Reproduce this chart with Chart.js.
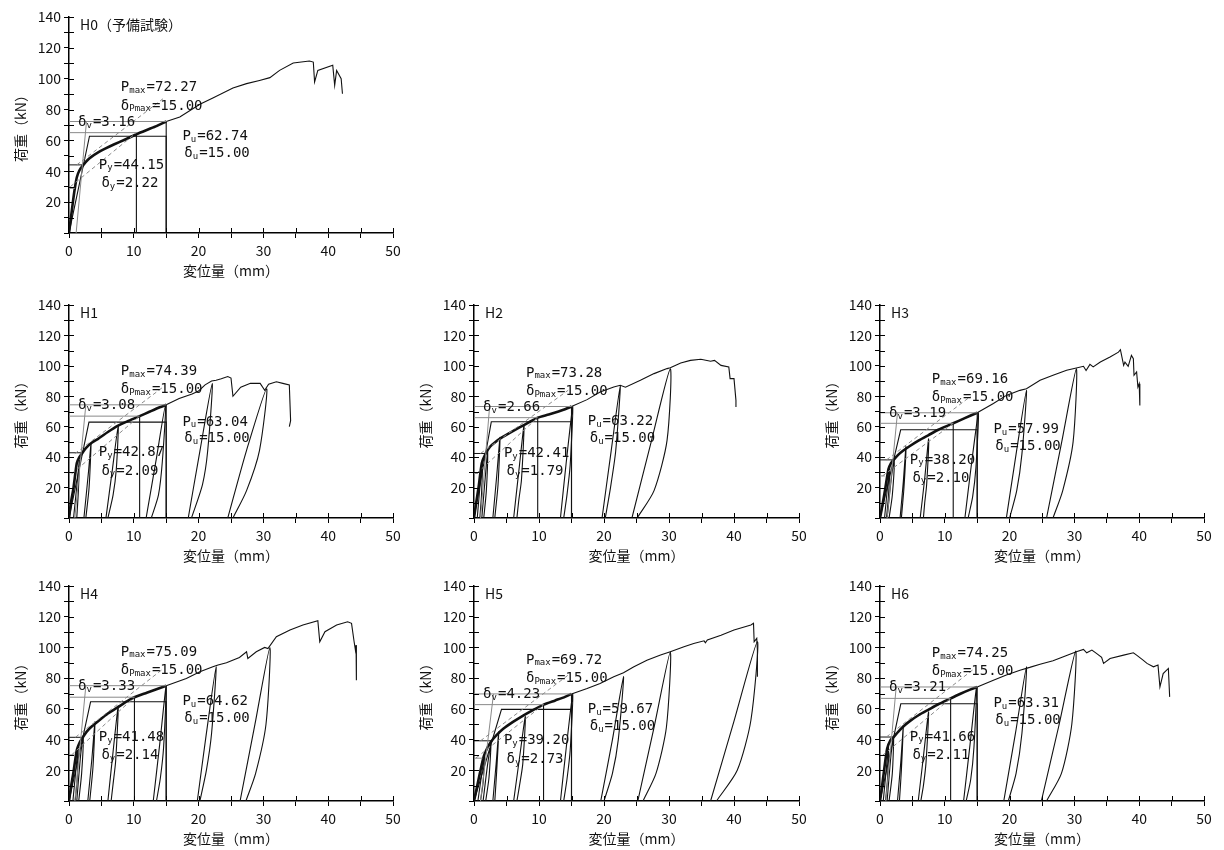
<!DOCTYPE html>
<html>
<head>
<meta charset="utf-8">
<script src="https://cdn.jsdelivr.net/npm/chart.js@4.4.1/dist/chart.umd.min.js"></script>
<style>
  body { margin: 0; background: #fff; width: 1224px; height: 850px; position: relative; overflow: hidden; }
  canvas { position: absolute; }
</style>
</head>
<body>
<script>
// 荷重-変位量 curves, H0 (monotonic) and H1..H6 (cyclic)
const xTicks = [0, 10, 20, 30, 40, 50];
const yTicks = [20, 40, 60, 80, 100, 120, 140];

// skeleton (thick, up to 15 mm) and remaining envelope (thin)
const h0Skeleton = [[0,0],[0.3,10],[0.6,20],[0.9,29],[1.2,36],[1.6,40.5],[2.22,44.15],[2.8,47],[3.5,49.5],[4.5,52.3],[5.5,54.5],[7,57.5],[8.5,60.3],[10.4,64],[12,66.8],[13.5,69.3],[15,72.27]];
const h0Tail = [[15,72.27],[17.1,75.2],[20.2,83.5],[22.2,87.5],[25.3,94],[27.4,96.8],[29.4,98.9],[31,100.7],[32.5,105.4],[34.6,110.2],[37.1,111.5],[37.7,110.8],[37.9,97.9],[38.4,105.4],[40.7,108.7],[41,95.7],[41.3,105.4],[42,100],[42.2,90.3]];
const h0Loops = [];

const h1Skeleton = [[0,0],[0.3,10],[0.7,20],[1.2,36],[1.6,40],[2.09,42.87],[2.6,46],[3.5,49.5],[4.5,52],[6,56.5],[7.5,60.5],[9,63.5],[10.9,66.95],[12.5,70],[14,72.8],[15,74.39]];
const h1Tail = [[15,74.39],[17,78.5],[19,81.5],[20,83.5],[21,87.5],[22,90],[22.7,90.5],[23.5,91.5],[24.5,93],[25,92],[25.3,80],[26.5,86],[28,88.5],[29.5,88.5],[30.2,84],[30.8,88],[32,89.5],[33,88.5],[34,87.5],[34.2,64],[34,60]];
const h1Loops = [
  [[0.7,0],[1.3,25],[1.6,38],[1.45,18],[1.2,0]],
  [[2.3,0],[3,30],[3.4,49],[3.1,20],[2.6,0]],
  [[5.7,0],[6.7,32],[7.6,61],[7.3,32],[6.8,15],[6,0]],
  [[11.9,0],[13.4,37],[14.9,74.4],[14.4,37],[13.8,15],[12.7,0]],
  [[18.4,0],[20.2,44],[22.1,88.3],[21.4,44],[20.6,22],[18.9,0]],
  [[24.5,0],[27.4,44.5],[30.5,85],[29.4,44.5],[27.4,18],[25.3,0]]
];

const h2Skeleton = [[0,0],[0.3,9],[0.7,20],[1.2,36],[1.79,42.41],[2.5,47],[3.3,50],[4.3,53],[5.5,56],[7,59.5],[8.5,63],[9.8,65.95],[11.5,68],[13,70],[14,71.5],[15,73.28]];
const h2Tail = [[15,73.28],[17.4,77.8],[19.4,82.8],[21.5,86.1],[22.5,87.2],[23.3,86],[25.6,90.5],[27.7,94.9],[29.7,98.2],[30.2,98.8],[31.8,101.9],[33.3,103.6],[34.9,104.3],[36.4,103],[37,103.6],[38,100.3],[39.2,99.3],[39.4,91.6],[40,91.6],[40.3,77.3],[40.3,73]];
const h2Loops = [
  [[0.5,0],[1,25],[1.3,38],[1.15,15],[0.9,0]],
  [[1.2,0],[1.8,30],[2.1,44],[1.9,18],[1.5,0]],
  [[2.9,0],[3.5,28],[4,53],[3.7,22],[3.2,0]],
  [[6.1,0],[6.9,31],[7.7,61],[7.3,25],[6.9,12],[6.6,0]],
  [[13.3,0],[14.2,37],[15.2,73.3],[14.8,35],[14.3,15],[13.8,0]],
  [[19.7,0],[21.1,44],[22.5,87],[21.8,44],[21,20],[20.2,0]],
  [[24.3,0],[27.2,49],[30.2,98],[29.7,51],[27.7,18],[25.1,0]]
];

const h3Skeleton = [[0,0],[0.4,9],[0.8,19],[1.3,32],[1.7,36],[2.1,38.2],[2.8,41.5],[3.5,44],[4.5,47],[6,51],[7.5,54.5],[9,58],[11.3,62.24],[13,65.5],[15,69.16]];
const h3Tail = [[15,69.16],[17.5,75.2],[19.5,80.6],[21.6,83.9],[22.6,85],[24.7,90.5],[26.7,93.8],[28.8,97.1],[30.3,98.6],[31.4,99.7],[31.8,97],[32.4,101],[32.9,99.3],[34,102.5],[35.5,105.8],[36.8,109],[37.1,110.6],[37.6,100.3],[37.8,102.5],[38.3,99.7],[38.8,106.9],[39.1,104.7],[39.2,93.8],[39.6,96],[39.8,86.1],[40,88.3],[40.1,74]];
const h3Loops = [
  [[0.7,0],[1.2,22],[1.5,34],[1.3,14],[1,0]],
  [[1.1,0],[1.8,28],[2.2,38],[1.9,15],[1.4,0]],
  [[3.1,0],[3.6,24],[4,47],[3.7,20],[3.3,0]],
  [[6.2,0],[6.9,26],[7.5,52],[7.2,22],[6.9,10],[6.7,0]],
  [[13.1,0],[14.1,35],[15.2,69.2],[14.8,33],[14.3,14],[13.6,0]],
  [[19.5,0],[21,42],[22.6,84],[21.9,42],[21.1,18],[20,0]],
  [[25.7,0],[28,49],[30.3,98],[29.8,50],[28.2,18],[26.7,0]]
];

const h4Skeleton = [[0,0],[0.3,9],[0.7,19],[1.2,33],[1.7,38.5],[2.14,41.48],[2.8,45.5],[3.5,48.5],[4.5,52],[6,57],[7.5,61],[9,65],[10.1,67.58],[12,70.5],[13.5,72.8],[15,75.09]];
const h4Tail = [[15,75.09],[18.1,79.8],[20.2,84.1],[22.2,87.4],[23,88.5],[24.3,90],[26.3,93.5],[27.4,97.2],[27.6,92.8],[28.9,97.2],[30.2,100],[30.7,99.3],[32,107],[34.1,111.3],[36.1,114.6],[38.4,117.4],[38.7,103.7],[39.5,110.2],[41.3,114.6],[43,116.7],[43.6,115.7],[44,103.7],[44.2,98.3],[44.3,101.5],[44.4,85.2],[44.3,78.7]];
const h4Loops = [
  [[0.6,0],[1.1,22],[1.4,36],[1.25,14],[0.95,0]],
  [[1.2,0],[1.8,30],[2.2,42],[1.95,18],[1.5,0]],
  [[2.9,0],[3.5,26],[4,51.5],[3.7,22],[3.2,0]],
  [[6,0],[6.8,32],[7.6,62],[7.2,26],[6.8,11],[6.5,0]],
  [[13,0],[14,37],[15,75.1],[14.6,35],[14.1,15],[13.5,0]],
  [[19.8,0],[21.2,44],[22.7,87.4],[22,44],[21.2,20],[20.2,0]],
  [[26.4,0],[28.7,50],[31,100],[30.4,50],[28.8,18],[27.3,0]]
];

const h5Skeleton = [[0,0],[0.4,8],[0.9,18],[1.5,29],[2.1,35],[2.73,39.2],[3.5,43],[4.5,47],[6,51.5],[7.5,55.5],[9,59],[10.7,62.75],[12.5,65.5],[14,67.8],[15,69.72]];
const h5Tail = [[15,69.72],[17.4,73.3],[19.4,76.5],[21.5,80.9],[23,83.5],[24.6,87.4],[26.6,91.7],[28.7,95],[30.2,97.2],[32.3,100.4],[33.8,102.6],[35.4,104.3],[35.6,103],[35.9,104.8],[38,108],[40,111.3],[42.6,114.6],[43,115.7],[43.1,103.7],[43.5,105.9],[43.6,98.3],[43.6,80.9]];
const h5Loops = [
  [[0.6,0],[1.2,18],[1.6,30],[1.4,12],[1,0]],
  [[1.4,0],[2.1,24],[2.6,37],[2.3,15],[1.8,0]],
  [[2.9,0],[3.4,24],[3.8,45],[3.5,20],[3.2,0]],
  [[6.1,0],[7,28],[7.9,55],[7.5,24],[7,10],[6.6,0]],
  [[13.3,0],[14.2,35],[15.2,69.7],[14.8,33],[14.3,14],[13.8,0]],
  [[19.5,0],[21.3,40],[23,81],[22.2,40],[21.3,18],[20,0]],
  [[25.2,0],[27.7,48],[30.2,97],[29.6,48],[28,18],[26,0]],
  [[36.4,0],[40,52],[43.6,103.7],[42.6,52.6],[40.5,20],[37.3,0]]
];

const h6Skeleton = [[0,0],[0.3,9],[0.6,19],[1.1,34],[1.6,39.5],[2.11,41.66],[2.8,45],[3.6,48.5],[4.6,52],[6,56],[7.5,59.5],[9,63],[10.9,66.8],[12.5,70],[14,72.7],[15,74.25]];
const h6Tail = [[15,74.25],[17.5,78.7],[19.5,82],[21.6,85.2],[23.1,87],[24.7,89.1],[26.7,91.3],[28.3,93.9],[30.3,97.2],[31.4,98.7],[31.9,96.5],[32.7,98.3],[33.4,96.1],[34.2,93.5],[34.5,89.6],[35.5,92.8],[37.6,95],[39.1,96.5],[39.6,95],[40.6,91.7],[41.2,89.6],[42.2,87.4],[42.9,88.5],[43.2,74.3],[43.7,83],[44.5,86.3],[44.7,67.8]];
const h6Loops = [
  [[0.5,0],[1,22],[1.3,36],[1.15,14],[0.85,0]],
  [[1.1,0],[1.7,30],[2.1,41.7],[1.9,18],[1.4,0]],
  [[2.7,0],[3.2,25],[3.6,49],[3.3,20],[3,0]],
  [[5.9,0],[6.7,29],[7.5,58],[7.1,25],[6.7,10],[6.3,0]],
  [[12.9,0],[13.9,37],[14.9,74],[14.5,35],[14,14],[13.3,0]],
  [[19.1,0],[20.9,44],[22.6,87.4],[21.9,44],[21,18],[19.8,0]],
  [[24.9,0],[27.6,49],[30.2,97.6],[29.6,50],[28,18],[25.7,0]]
];

// evaluation results: Pmax, δPmax, Py, δy, Pu, δu, δv, and δ at 0.9Pmax / 0.4Pmax
const h0Result = { Pmax: 72.27, dPmax: 15.00, Py: 44.15, dy: 2.22, Pu: 62.74, du: 15.00, dv: 3.16, d09: 10.4, d04: 0.9 };
const h1Result = { Pmax: 74.39, dPmax: 15.00, Py: 42.87, dy: 2.09, Pu: 63.04, du: 15.00, dv: 3.08, d09: 10.9, d04: 0.75 };
const h2Result = { Pmax: 73.28, dPmax: 15.00, Py: 42.41, dy: 1.79, Pu: 63.22, du: 15.00, dv: 2.66, d09: 9.8, d04: 0.6 };
const h3Result = { Pmax: 69.16, dPmax: 15.00, Py: 38.20, dy: 2.10, Pu: 57.99, du: 15.00, dv: 3.19, d09: 11.3, d04: 0.75 };
const h4Result = { Pmax: 75.09, dPmax: 15.00, Py: 41.48, dy: 2.14, Pu: 64.62, du: 15.00, dv: 3.33, d09: 10.1, d04: 0.75 };
const h5Result = { Pmax: 69.72, dPmax: 15.00, Py: 39.20, dy: 2.73, Pu: 59.67, du: 15.00, dv: 4.23, d09: 10.7, d04: 1.3 };
const h6Result = { Pmax: 74.25, dPmax: 15.00, Py: 41.66, dy: 2.11, Pu: 63.31, du: 15.00, dv: 3.21, d09: 10.9, d04: 0.6 };

// construction lines I, II, III (read end points)
const h0Lines = [[[1.1,0],[2.7,72.27]], [[0.2,30],[10.4,65]], [[1.2,44.15],[14.5,87]]];
const h1Lines = [[[0.9,0],[2.6,74.39]], [[0.4,29],[10.9,67]], [[0.9,42.3],[14.5,86]]];
const h2Lines = [[[1.0,0],[2.4,73.28]], [[0.4,29.3],[9.8,66]], [[1.0,42.4],[14.5,84]]];
const h3Lines = [[[1.1,0],[2.7,69.16]], [[0.4,27.7],[11.3,62.2]], [[1.0,38.2],[14,80]]];
const h4Lines = [[[0.9,0],[2.6,75.09]], [[0.4,30],[10.1,67.6]], [[1.0,41.5],[14.5,86]]];
const h5Lines = [[[1.0,0],[3.0,69.72]], [[0.3,28],[10.7,62.75]], [[1.0,39.2],[14.5,82]]];
const h6Lines = [[[0.9,0],[2.5,74.25]], [[0.4,29.7],[10.9,66.8]], [[1.0,41.7],[14.5,86]]];

const panels = [
  { title: 'H0（予備試験）', area: [69, 17, 393, 233], sk: h0Skeleton, tail: h0Tail, loops: h0Loops, res: h0Result, lines: h0Lines },
  { title: 'H1', area: [69, 305, 393, 518], sk: h1Skeleton, tail: h1Tail, loops: h1Loops, res: h1Result, lines: h1Lines },
  { title: 'H2', area: [474, 305, 799, 518], sk: h2Skeleton, tail: h2Tail, loops: h2Loops, res: h2Result, lines: h2Lines },
  { title: 'H3', area: [880, 305, 1204, 518], sk: h3Skeleton, tail: h3Tail, loops: h3Loops, res: h3Result, lines: h3Lines },
  { title: 'H4', area: [69, 586, 393, 801], sk: h4Skeleton, tail: h4Tail, loops: h4Loops, res: h4Result, lines: h4Lines },
  { title: 'H5', area: [474, 586, 799, 801], sk: h5Skeleton, tail: h5Tail, loops: h5Loops, res: h5Result, lines: h5Lines },
  { title: 'H6', area: [880, 586, 1204, 801], sk: h6Skeleton, tail: h6Tail, loops: h6Loops, res: h6Result, lines: h6Lines }
];

const INK = '#111';
const GRAY = '#8a8a8a';
const LEFT = 69, TOP = 17, RIGHT = 14, BOTTOM = 50;
const CJK = '"Noto Sans CJK JP", sans-serif';
const MONO = '"DejaVu Sans Mono", monospace';

function line(pts, color, width, extra) {
  return Object.assign({
    data: pts.map(([x, y]) => ({ x, y })),
    showLine: true, pointRadius: 0, borderColor: color, borderWidth: width,
    fill: false, tension: 0
  }, extra || {});
}

// inner tick marks, panel name and evaluation labels
const decor = {
  id: 'decor',
  afterDraw(chart, args, o) {
    const { ctx, chartArea: a } = chart;
    const sx = chart.scales.x, sy = chart.scales.y;
    ctx.save();
    ctx.strokeStyle = '#000';
    ctx.lineWidth = 1;
    sx.ticks.forEach(t => {
      if (t.value === 0) return;
      const px = Math.round(sx.getPixelForValue(t.value)) + 0.5;
      ctx.beginPath(); ctx.moveTo(px, a.bottom); ctx.lineTo(px, a.bottom - 5); ctx.stroke();
    });
    sy.ticks.forEach(t => {
      if (t.value === 0) return;
      const py = Math.round(sy.getPixelForValue(t.value)) + 0.5;
      ctx.beginPath(); ctx.moveTo(a.left, py); ctx.lineTo(a.left + 5, py); ctx.stroke();
    });

    ctx.fillStyle = INK;
    ctx.textBaseline = 'middle';
    ctx.font = '14px ' + CJK;
    ctx.fillText(o.title, a.left + 11, a.top + 8);

    const put = (xv, yv, main, sub, rest) => {
      let px = sx.getPixelForValue(xv);
      const py = sy.getPixelForValue(yv);
      ctx.font = '14px ' + MONO;
      ctx.fillText(main, px, py);
      px += ctx.measureText(main).width;
      ctx.font = '9px ' + MONO;
      ctx.fillText(sub, px, py + 3);
      px += ctx.measureText(sub).width + 1;
      ctx.font = '14px ' + MONO;
      ctx.fillText(rest, px, py);
    };
    const r = o.res;
    put(8, r.Pmax + 22, 'P', 'max', '=' + r.Pmax.toFixed(2));
    put(8, r.Pmax + 10, 'δ', 'Pmax', '=' + r.dPmax.toFixed(2));
    put(1.4, r.Pmax - 0.5, 'δ', 'v', '=' + r.dv.toFixed(2));
    put(17.5, r.Pu, 'P', 'u', '=' + r.Pu.toFixed(2));
    put(17.8, r.Pu - 11, 'δ', 'u', '=' + r.du.toFixed(2));
    put(4.6, r.Py, 'P', 'y', '=' + r.Py.toFixed(2));
    put(5.0, r.Py - 12, 'δ', 'y', '=' + r.dy.toFixed(2));
    ctx.restore();
  }
};

panels.forEach(p => {
  const [l, t, rgt, b] = p.area;
  const cv = document.createElement('canvas');
  const w = (rgt - l) + LEFT + RIGHT, h = (b - t) + TOP + BOTTOM;
  cv.width = w; cv.height = h;
  cv.style.left = (l - LEFT) + 'px';
  cv.style.top = (t - TOP) + 'px';
  cv.style.width = w + 'px'; cv.style.height = h + 'px';
  document.body.appendChild(cv);

  const r = p.res;
  const [lineI, lineII, lineIII] = p.lines;
  const datasets = [
    line([[0, r.Pmax], [r.dPmax, r.Pmax]], GRAY, 1),
    line([[0, 0.9 * r.Pmax], [r.d09, 0.9 * r.Pmax]], GRAY, 1),
    line([[0, 0.4 * r.Pmax], [r.d04, 0.4 * r.Pmax]], GRAY, 1),
    line(lineI, GRAY, 1),
    line(lineII, GRAY, 1, { borderDash: [4, 3] }),
    line(lineIII, GRAY, 1, { borderDash: [4, 3] }),
    line([[0, r.Py], [r.dy, r.Py]], INK, 1),
    line([[r.d09, 0], [r.d09, 0.9 * r.Pmax]], INK, 1.1),
    line([[r.dPmax, 0], [r.dPmax, r.Pmax]], INK, 1.1),
    line([[0, 0], [r.dv, r.Pu], [r.du, r.Pu], [r.du, 0]], INK, 1.1)
  ];
  p.loops.forEach(lp => datasets.push(line(lp, INK, 1.1, { tension: 0.25 })));
  datasets.push(line(p.tail, INK, 1.1));
  datasets.push(line(p.sk, INK, 2.6, { tension: 0.2 }));

  new Chart(cv.getContext('2d'), {
    type: 'scatter',
    data: { datasets },
    plugins: [decor],
    options: {
      responsive: false,
      animation: false,
      devicePixelRatio: 1,
      layout: { padding: { top: TOP, right: RIGHT, left: 0, bottom: 0 } },
      plugins: {
        legend: { display: false },
        tooltip: { enabled: false },
        decor: { title: p.title, res: r }
      },
      scales: {
        x: {
          type: 'linear', min: 0, max: 50,
          afterFit: s => { s.height = BOTTOM; },
          grid: { drawOnChartArea: false, drawTicks: true, tickLength: 5, color: '#000', lineWidth: 1 },
          border: { display: true, color: '#000', width: 1.5 },
          ticks: {
            stepSize: 5, autoSkip: false, maxRotation: 0, padding: 4, color: INK,
            font: { family: CJK, size: 14 },
            callback: v => xTicks.includes(v) ? String(v) : ''
          },
          title: { display: true, text: '変位量（mm）', color: INK, font: { family: CJK, size: 14 }, padding: { top: 0, bottom: 4 } }
        },
        y: {
          type: 'linear', min: 0, max: 140,
          afterFit: s => { s.width = LEFT; },
          grid: { drawOnChartArea: false, drawTicks: true, tickLength: 5, color: '#000', lineWidth: 1 },
          border: { display: true, color: '#000', width: 1.5 },
          ticks: {
            stepSize: 10, autoSkip: false, padding: 3, color: INK,
            font: { family: CJK, size: 14 },
            callback: v => yTicks.includes(v) ? String(v) : ''
          },
          title: { display: true, text: '荷重（kN）', color: INK, font: { family: CJK, size: 14 }, padding: { top: 12, bottom: 0 } }
        }
      }
    }
  });
});
</script>
</body>
</html>
